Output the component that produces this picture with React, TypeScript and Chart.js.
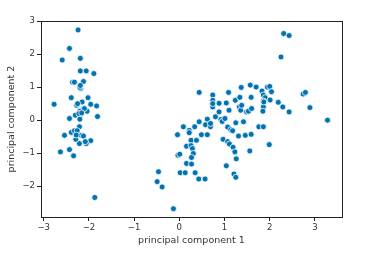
import React, { useEffect, useRef } from "react";
import { Chart, registerables } from "chart.js";

Chart.register(...registerables);

const pc1: number[] = [
  -2.24, -2.43, -2.59, -2.19, -2.19, -2.06, -1.89, -2.36, -2.32, -2.12,
  -2.19, -2.18, -2.2, -2.77, -2.39, -2.02, -2.15, -2.27, -1.96, -1.83,
  -2.14, -2.2, -2.04, -2.3, -2.18, -1.81, -2.43, -2.2, -2.21, -2.54,
  -2.39, -2.32, -2.26, -2.17, -2.12, -2.29, -1.96, -2.21, -2.06, -2.63,
  -2.43, -2.34, -1.87, -2.22, -2.1, -2.28, -2.16, -2.25, -2.19, -2.08,
  0.44, 1.09, 0.74, 0.74, 0.74, 0.88, 1.04, 1.24, 1.37, 1.34,
  1.33, 1.36, 1.49, 1.53, 1.57, 1.7, 1.59, 1.83, 1.95, 2.0,
  2.04, 1.86, 1.9, 1.86, 1.86, 1.85, 2.01, 2.19, 2.29, 2.43,
  2.74, 2.79, 2.89, 3.28, 2.25, 2.31, 2.43, 0.62, 0.92, 0.95,
  1.01, 1.07, 1.14, 1.18, 1.25, 1.42, 0.58, 0.69, 0.69, 0.44,
  0.34, 0.09, 0.22, 0.22, 0.49, 0.62, -0.04, 0.97, 1.07, 1.11,
  1.19, 1.23, 1.26, 1.31, 1.46, 1.59, 1.76, 1.86, 1.56, 1.99,
  1.04, 1.21, 1.25, 0.26, 0.38, 0.16, 0.26, 0.29, 0.31, 0.27,
  -0.03, 0.01, 0.16, 0.27, 0.02, 0.13, 0.35, 0.43, 0.57, -0.46,
  -0.49, -0.38, -0.13, 0.74, 0.88, 1.1, 1.38, 0.8, 1.87, 1.6,
];

const pc2: number[] = [
  2.73, 2.17, 1.82, 1.87, 1.49, 1.49, 1.41, 1.15, 1.15, 1.17,
  1.01, 0.96, 0.99, 0.48, 0.68, 0.68, 0.55, 0.45, 0.48, 0.43,
  0.32, 0.27, 0.27, 0.15, 0.17, 0.11, 0.05, 0.03, -0.2, -0.46,
  -0.37, -0.32, -0.32, -0.46, -0.48, -0.58, -0.62, -0.71, -0.71, -0.96,
  -0.89, -1.08, -2.34, 0.2, 0.35, -0.45, 0.22, 0.5, 1.05, -0.65,
  0.84, 0.84, 0.76, 0.6, 0.4, 0.51, 0.52, 0.6, 0.99, 0.69,
  0.4, 0.3, 0.25, 0.27, 1.06, 1.0, 0.69, 0.88, 1.0, 1.02,
  0.86, 0.76, 0.68, 0.58, 0.4, 0.27, 0.61, 0.54, 0.4, 0.25,
  0.79, 0.84, 0.38, 0.0, 1.91, 2.62, 2.56, 0.03, 0.02, -0.04,
  0.05, -0.21, -0.29, -0.32, -0.08, -0.05, -0.14, -0.2, -0.1, -0.05,
  -0.2, -0.2, -0.31, -0.38, -0.44, -0.44, -0.44, -0.58, -0.65, -0.72,
  -0.82, -0.96, -1.17, -0.48, -0.46, -0.43, -0.2, -0.2, -0.93, -0.74,
  -1.38, -1.63, -1.73, -0.61, -0.61, -0.79, -0.77, -0.86, -1.01, -1.13,
  -1.06, -1.03, -1.31, -1.33, -1.59, -1.59, -1.59, -1.78, -1.78, -1.56,
  -1.86, -2.02, -2.68, 0.5, 0.25, 0.3, 0.45, 0.1, 0.55, 0.35,
];

const xTicks: number[] = [-3, -2, -1, 0, 1, 2, 3];
const yTicks: number[] = [-2, -1, 0, 1, 2, 3];
const xLabel = "principal component 1";
const yLabel = "principal component 2";

const boxPlugin = {
  id: "box",
  afterDraw(chart: any) {
    const { ctx, chartArea } = chart;
    ctx.save();
    ctx.strokeStyle = "#222";
    ctx.lineWidth = 1;
    ctx.strokeRect(
      Math.round(chartArea.left) + 0.5,
      Math.round(chartArea.top) + 0.5,
      Math.round(chartArea.right - chartArea.left),
      Math.round(chartArea.bottom - chartArea.top)
    );
    ctx.restore();
  },
};

export default function App() {
  const ref = useRef<HTMLCanvasElement | null>(null);

  useEffect(() => {
    if (!ref.current) return;
    const points = pc1.map((x, i) => ({ x, y: pc2[i] }));
    const font = { family: "DejaVu Sans", size: 8.5 };
    const chart = new Chart(ref.current, {
      type: "scatter",
      data: {
        datasets: [
          {
            data: points,
            backgroundColor: "#0173b2",
            borderColor: "#ffffff",
            borderWidth: 0.8,
            pointRadius: 3,
            pointHoverRadius: 3,
          },
        ],
      },
      options: {
        responsive: false,
        animation: false,
        events: [],
        layout: { padding: { top: 21, right: 29, left: 6, bottom: 17 } },
        plugins: { legend: { display: false }, tooltip: { enabled: false } },
        scales: {
          x: {
            type: "linear",
            min: -3.06,
            max: 3.6,
            afterBuildTicks: (s: any) => {
              s.ticks = xTicks.map((v) => ({ value: v }));
            },
            afterFit: (s: any) => {
              s.height = 29;
            },
            border: { display: true, color: "#222", width: 1 },
            grid: {
              display: true,
              drawOnChartArea: false,
              drawTicks: true,
              tickLength: 4,
              color: "#222",
            },
            ticks: {
              color: "#333",
              font,
              padding: 2,
              maxRotation: 0,
              callback: (v: any) => String(v).replace("-", "\u2212"),
            },
            title: {
              display: true,
              text: xLabel,
              color: "#333",
              font: { family: "DejaVu Sans", size: 9.5 },
              padding: { top: 2, bottom: 0 },
            },
          },
          y: {
            type: "linear",
            min: -2.93,
            max: 3.0,
            afterBuildTicks: (s: any) => {
              s.ticks = yTicks.map((v) => ({ value: v }));
            },
            afterFit: (s: any) => {
              s.width = 35;
            },
            border: { display: true, color: "#222", width: 1 },
            grid: {
              display: true,
              drawOnChartArea: false,
              drawTicks: true,
              tickLength: 4,
              color: "#222",
            },
            ticks: {
              color: "#333",
              font,
              padding: 2,
              callback: (v: any) => String(v).replace("-", "\u2212"),
            },
            title: {
              display: true,
              text: yLabel,
              color: "#333",
              font: { family: "DejaVu Sans", size: 9.5 },
              padding: { top: 0, bottom: 0 },
            },
          },
        },
      },
      plugins: [boxPlugin],
    });
    return () => chart.destroy();
  }, []);

  return (
    <div style={{ position: "fixed", left: 0, top: 0, width: 371, height: 263, background: "#fff" }}>
      <canvas ref={ref} width={371} height={263} />
    </div>
  );
}
